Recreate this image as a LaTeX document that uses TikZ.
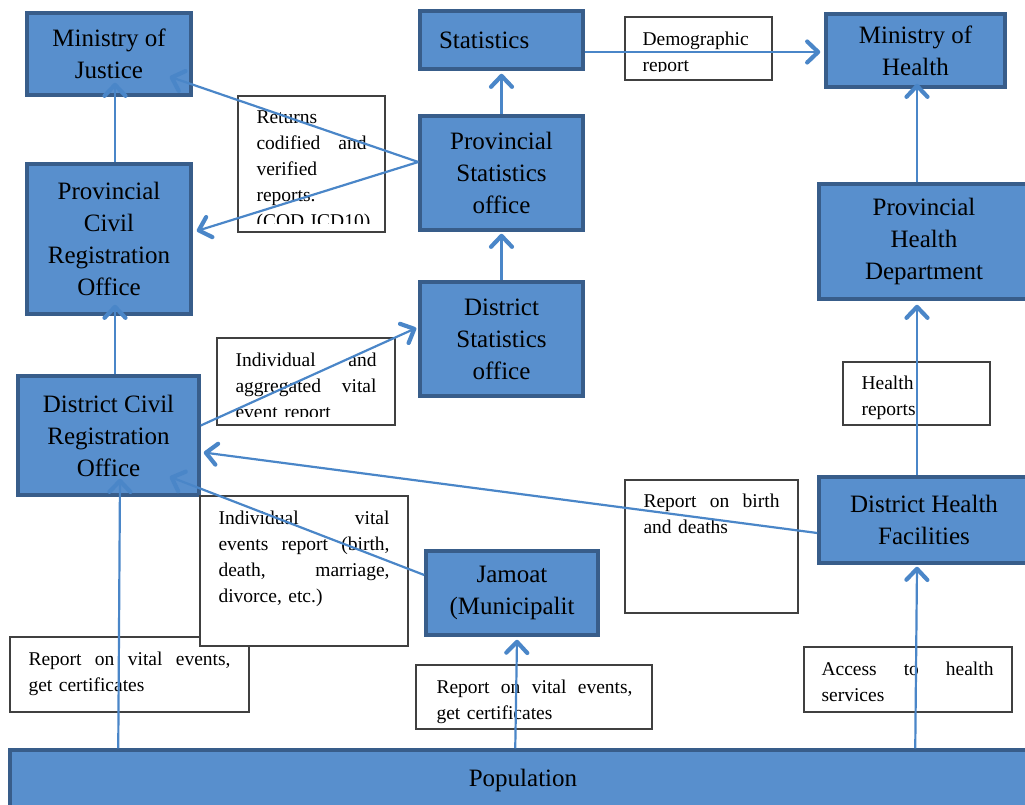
\documentclass[tikz,border=0pt]{standalone}
\usepackage{fontspec}
\setmainfont{Liberation Serif}
\usetikzlibrary{arrows.meta,calc}

\definecolor{officefill}{RGB}{88,143,205}
\definecolor{officeline}{RGB}{56,93,138}
\definecolor{flowblue}{RGB}{74,134,200}

\begin{document}
\begin{tikzpicture}[x=1pt,y=-1pt,
    office/.style={draw=officeline, fill=officefill, line width=3.5pt, align=center, inner sep=0pt, font=\fontsize{25}{32}\selectfont},
    note/.style={draw=black!75, line width=1.3pt, fill=white, inner sep=0pt},
    notetext/.style={anchor=north west, inner sep=0pt, align=left, font=\fontsize{19.5}{26}\selectfont},
    flow/.style={draw=flowblue, line width=2.2pt, -{Straight Barb[length=11pt,width=21pt,line width=0pt 1.9,round]}}]

        \clip (0,0) rectangle (1025,805);

        % draw offices
        \node[office, minimum width=164pt, minimum height=82pt] (moj) at (109,54) {Ministry of\\Justice};
        \node[office, minimum width=163pt, minimum height=58pt, text width=125pt, align=left] (stat) at (501.5,40) {Statistics};
        \node[office, minimum width=179pt, minimum height=73pt] (moh) at (915.5,50.5) {Ministry of\\Health};
        \node[office, minimum width=164pt, minimum height=150pt] (pcro) at (109,239) {Provincial\\Civil\\Registration\\Office};
        \node[office, minimum width=163pt, minimum height=114pt] (pso) at (501.5,173) {Provincial\\Statistics\\office};
        \node[office, minimum width=210pt, minimum height=115pt] (phd) at (924,241.5) {Provincial\\Health\\Department};
        \node[office, minimum width=163pt, minimum height=114pt] (dso) at (501.5,339) {District\\Statistics\\office};
        \node[office, minimum width=181pt, minimum height=119pt] (dcro) at (108.5,435.5) {District Civil\\Registration\\Office};
        \node[office, minimum width=210pt, minimum height=86pt] (dhf) at (924,520) {District Health\\Facilities};
        \node[office, minimum width=172pt, minimum height=84pt] (jam) at (512,593) {Jamoat\\(Municipalit};
        \node[office, minimum width=1026pt, minimum height=60pt] (pop) at (523,780) {Population};

        % draw notes
        \node[note, minimum width=239pt, minimum height=75pt] (rve1) at (129.5,674.5) {};
        \node[notetext, text width=202pt] (rve1T) at ($(rve1.north west)+(19,15)$) {Report\hfill on\hfill vital\hfill events,\\ get certificates};

        \node[note, minimum width=208pt, minimum height=150pt] (ivr) at (304,571) {};
        \node[notetext, text width=171pt] (ivrT) at ($(ivr.north west)+(19,15)$) {Individual\hfill vital\\ events\hfill report\hfill (birth,\\ death,\hfill marriage,\\ divorce, etc.)};

        \node[note, minimum width=147pt, minimum height=136pt] (ret) at (311.5,164) {};
        \begin{scope}
            \clip (ret.north west) rectangle ($(ret.south east)+(0,-9)$);
            \node[notetext, text width=110pt] (retT) at ($(ret.north west)+(19,15)$) {Returns\\ codified\hfill and\\ verified\\ reports.\\ \mbox{(COD ICD10)}};
        \end{scope}

        \node[note, minimum width=147pt, minimum height=63pt] (dem) at (698.5,48.5) {};
        \begin{scope}
            \clip (dem.north west) rectangle ($(dem.south east)+(0,-9)$);
            \node[notetext, text width=110pt] (demT) at ($(dem.north west)+(18,15)$) {Demographic\\ report};
        \end{scope}

        \node[note, minimum width=178pt, minimum height=87pt] (iav) at (306,381.5) {};
        \begin{scope}
            \clip (iav.north west) rectangle ($(iav.south east)+(0,-9)$);
            \node[notetext, text width=141pt] (iavT) at ($(iav.north west)+(19,15)$) {Individual\hfill and\\ aggregated\hfill vital\\ event report};
        \end{scope}

        \node[note, minimum width=147pt, minimum height=63pt] (hr) at (916.5,393.5) {};
        \node[notetext, text width=110pt] (hrT) at ($(hr.north west)+(19,14)$) {Health\\ reports};

        \node[note, minimum width=173pt, minimum height=133pt] (rbd) at (711.5,546.5) {};
        \node[notetext, text width=136pt] (rbdT) at ($(rbd.north west)+(19,14)$) {Report\hfill on\hfill birth\\ and deaths};

        \node[note, minimum width=236pt, minimum height=64pt] (rve2) at (534,697) {};
        \node[notetext, text width=196pt] (rve2T) at ($(rve2.north west)+(21,15)$) {Report\hfill on\hfill vital\hfill events,\\ get certificates};

        \node[note, minimum width=208pt, minimum height=65pt] (ahs) at (908,679.5) {};
        \node[notetext, text width=172pt] (ahsT) at ($(ahs.north west)+(18,15)$) {Access\hfill to\hfill health\\ services};

        % draw flows
        \draw[flow] ($(pcro.north)+(6,0)$) -- ($(moj.south)+(6,-14)$);
        \draw[flow] ($(dcro.north)+(6.5,0)$) -- ($(pcro.south)+(6,-11)$);
        \draw[flow] ($(pop.north west)+(110,0)$) -- ($(dcro.south)+(11.5,-18)$);
        \draw[flow] ($(pso.west)+(0,-11)$) -- ($(moj.south east)+(-23,-20)$);
        \draw[flow] ($(pso.west)+(0,-11)$) -- ($(pcro.east)+(4,-8)$);
        \draw[flow] (pso.north) -- ($(stat.south)+(0,3)$);
        \draw[flow] (dso.north) -- ($(pso.south)+(0,2)$);
        \draw[flow] ($(stat.east)+(0,12)$) -- ($(moh.west)+(-4,1.5)$);
        \draw[flow] ($(phd.north)+(-7,0)$) -- ($(moh.south)+(1.5,-5)$);
        \draw[flow] ($(dhf.north)+(-7,0)$) -- ($(phd.south)+(-7,4)$);
        \draw[flow] ($(dhf.west)+(0,13)$) -- ($(dcro.east)+(3,17)$);
        \draw[flow] ($(dcro.east)+(0,-10)$) -- ($(dso.west)+(-2,-11)$);
        \draw[flow] ($(jam.west)+(0,-18)$) -- ($(dcro.south east)+(-31,-20)$);
        \draw[flow] ($(pop.north west)+(507,0)$) -- ($(jam.south)+(5,3)$);
        \draw[flow] ($(pop.north west)+(907,0)$) -- ($(dhf.south)+(-7,2)$);
\end{tikzpicture}
\end{document}
